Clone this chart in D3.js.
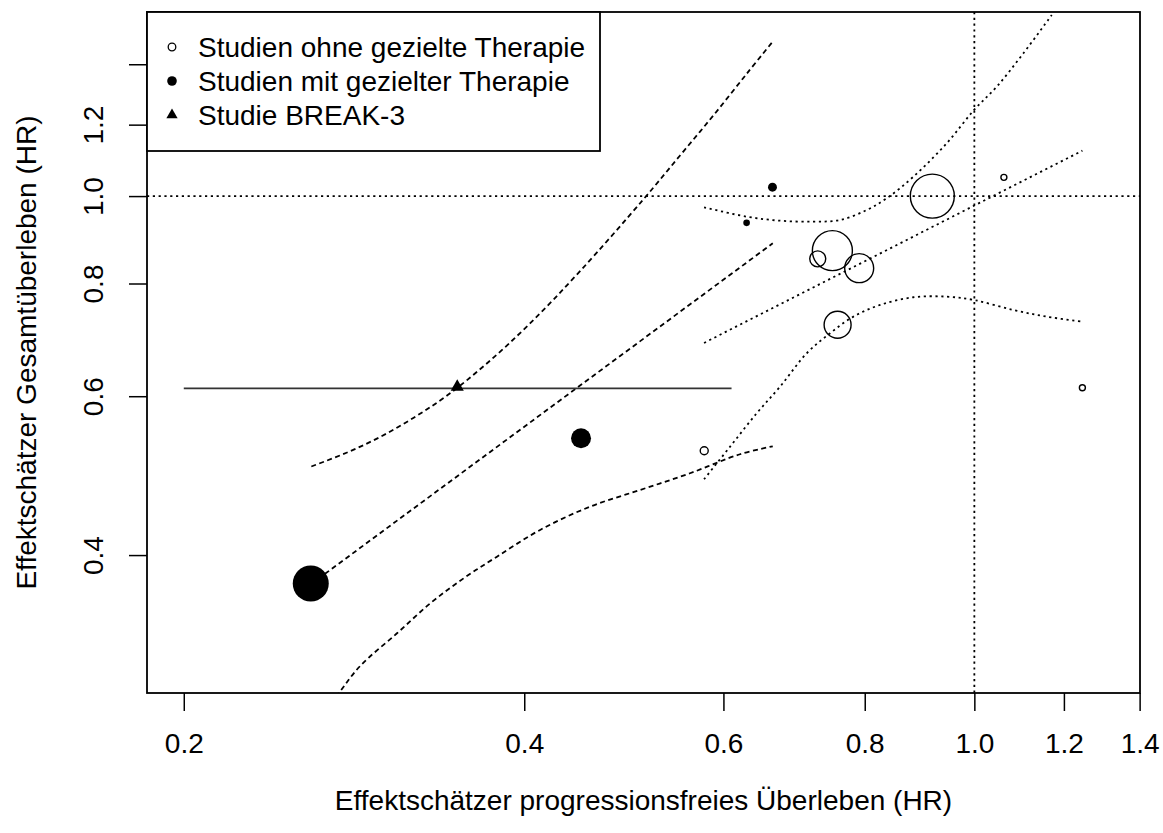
<!DOCTYPE html>
<html>
<head>
<meta charset="utf-8">
<script src="https://cdn.jsdelivr.net/npm/d3@7"></script>
<style>
  body { margin: 0; background: #fff; }
  text { font-family: "Liberation Sans", Arial, sans-serif; fill: #000; }
</style>
</head>
<body>
<div id="chart"></div>
<script>
// Studien ohne gezielte Therapie (offene Kreise)
const ohnePfs = [0.918, 1.062, 0.749, 0.727, 0.791, 0.757, 1.246, 0.577];
const ohneOs = [1.000, 1.049, 0.870, 0.852, 0.832, 0.720, 0.613, 0.522];
const ohneGewicht = [484, 9, 400, 64, 210, 182, 9, 16];

// Studien mit gezielter Therapie (gefuellte Kreise)
const mitPfs = [0.663, 0.629, 0.449, 0.259];
const mitOs = [1.023, 0.934, 0.539, 0.372];
const mitGewicht = [20, 11, 100, 324];

// Studie BREAK-3 mit Konfidenzintervall fuer PFS
const breakPfs = [0.349];
const breakOs = [0.612];
const breakKiPfs = [0.200, 0.610];

// Regression (gezielte Therapie), gestrichelt
const mitFitPfs = [0.2593, 0.6634];
const mitFitOs = [0.3716, 0.8865];
const mitObenPfs = [0.2593, 0.2789, 0.2984, 0.3194, 0.3418, 0.3706, 0.4047, 0.4481, 0.5098, 0.5493, 0.5878, 0.6292, 0.6634];
const mitObenOs = [0.5015, 0.5197, 0.5409, 0.5680, 0.6010, 0.6522, 0.7225, 0.8256, 0.9916, 1.1092, 1.2284, 1.3667, 1.4835];
const mitUntenPfs = [0.2593, 0.2742, 0.2865, 0.3087, 0.3304, 0.3536, 0.3784, 0.4131, 0.4573, 0.5064, 0.5606, 0.6206, 0.6634];
const mitUntenOs = [0.2549, 0.2811, 0.3015, 0.3276, 0.3537, 0.3770, 0.3984, 0.4265, 0.4526, 0.4723, 0.4929, 0.5174, 0.5280];

// Regression (ohne gezielte Therapie), gepunktet
const ohneFitPfs = [0.5768, 1.246];
const ohneFitOs = [0.6874, 1.1229];
const ohneObenPfs = [0.5768, 0.6292, 0.6733, 0.7206, 0.7608, 0.8033, 0.8367, 0.8833, 0.9453, 0.9994, 1.0467, 1.1050, 1.1707];
const ohneObenOs = [0.9718, 0.9488, 0.9391, 0.9368, 0.9408, 0.9651, 0.9944, 1.0507, 1.1443, 1.2458, 1.3221, 1.4398, 1.5876];
const ohneUntenPfs = [0.5768, 0.6082, 0.6421, 0.6733, 0.7109, 0.7455, 0.7817, 0.8254, 0.8833, 0.9453, 0.9994, 1.0826, 1.1588, 1.246];
const ohneUntenOs = [0.4854, 0.5275, 0.5745, 0.6148, 0.6695, 0.7046, 0.7351, 0.7574, 0.7724, 0.7736, 0.7670, 0.7477, 0.7351, 0.7257];

// Achsen
const xLim = [0.2, 1.3];
const yLim = [0.3, 1.5];
const xTicks = [0.2, 0.4, 0.6, 0.8, 1.0, 1.2, 1.4];
const xTickLabels = ["0.2", "0.4", "0.6", "0.8", "1.0", "1.2", "1.4"];
const yTicks = [0.4, 0.6, 0.8, 1.0, 1.2, 1.4];
const yTickLabels = ["0.4", "0.6", "0.8", "1.0", "1.2", ""];

const legendLabels = ["Studien ohne gezielte Therapie", "Studien mit gezielter Therapie", "Studie BREAK-3"];
const xTitle = "Effektschätzer progressionsfreies Überleben (HR)";
const yTitle = "Effektschätzer Gesamtüberleben (HR)";

const width = 1163, height = 833;
const margin = { top: 12, right: 23, bottom: 140, left: 147 };
const fontSize = 28;

// R-artige Achsenerweiterung um 4 % (log)
function extend(lim) {
    const a = Math.log(lim[0]), b = Math.log(lim[1]), d = (b - a) * 0.04;
    return [Math.exp(a - d), Math.exp(b + d)];
}

const x = d3.scaleLog()
    .domain(extend(xLim))
    .range([margin.left, width - margin.right]);

const y = d3.scaleLog()
    .domain(extend(yLim))
    .range([height - margin.bottom, margin.top]);

const r = d3.scaleSqrt().domain([0, 484]).range([0, 22]);

const svg = d3.select("#chart")
    .append("svg")
    .attr("width", width)
    .attr("height", height)
    .attr("viewBox", [0, 0, width, height]);

svg.append("defs").append("clipPath")
    .attr("id", "plotclip")
    .append("rect")
    .attr("x", margin.left)
    .attr("y", margin.top)
    .attr("width", width - margin.right - margin.left)
    .attr("height", height - margin.bottom - margin.top);

const plot = svg.append("g").attr("clip-path", "url(#plotclip)");

const zip = (xs, ys) => xs.map((v, i) => [v, ys[i]]);

const straight = d3.line().x(d => x(d[0])).y(d => y(d[1]));
const smooth = d3.line().x(d => x(d[0])).y(d => y(d[1])).curve(d3.curveCatmullRom);

const dashed = "5,3.5";
const dotted = "2.2,3.6";

// Referenzlinien HR = 1
plot.append("line")
    .attr("x1", margin.left).attr("x2", width - margin.right)
    .attr("y1", y(1)).attr("y2", y(1))
    .attr("stroke", "#000").attr("stroke-width", 1.8)
    .attr("stroke-dasharray", dotted);

plot.append("line")
    .attr("x1", x(1)).attr("x2", x(1))
    .attr("y1", margin.top).attr("y2", height - margin.bottom)
    .attr("stroke", "#000").attr("stroke-width", 1.8)
    .attr("stroke-dasharray", dotted);

const curves = [
    { d: straight(zip(mitFitPfs, mitFitOs)), dash: dashed },
    { d: smooth(zip(mitObenPfs, mitObenOs)), dash: dashed },
    { d: smooth(zip(mitUntenPfs, mitUntenOs)), dash: dashed },
    { d: straight(zip(ohneFitPfs, ohneFitOs)), dash: dotted },
    { d: smooth(zip(ohneObenPfs, ohneObenOs)), dash: dotted },
    { d: smooth(zip(ohneUntenPfs, ohneUntenOs)), dash: dotted }
];

plot.append("g")
    .selectAll("path")
    .data(curves)
    .join("path")
    .attr("d", c => c.d)
    .attr("fill", "none")
    .attr("stroke", "#000")
    .attr("stroke-width", 1.8)
    .attr("stroke-dasharray", c => c.dash);

// KI BREAK-3
plot.append("line")
    .attr("x1", x(breakKiPfs[0])).attr("x2", x(breakKiPfs[1]))
    .attr("y1", y(breakOs[0])).attr("y2", y(breakOs[0]))
    .attr("stroke", "#333").attr("stroke-width", 1.8);

// Punkte
plot.append("g")
    .selectAll("circle")
    .data(d3.range(ohnePfs.length))
    .join("circle")
    .attr("cx", i => x(ohnePfs[i]))
    .attr("cy", i => y(ohneOs[i]))
    .attr("r", i => r(ohneGewicht[i]))
    .attr("fill", "none")
    .attr("stroke", "#000")
    .attr("stroke-width", 1.4);

plot.append("g")
    .selectAll("circle")
    .data(d3.range(mitPfs.length))
    .join("circle")
    .attr("cx", i => x(mitPfs[i]))
    .attr("cy", i => y(mitOs[i]))
    .attr("r", i => r(mitGewicht[i]))
    .attr("fill", "#000");

plot.append("g")
    .selectAll("path")
    .data(d3.range(breakPfs.length))
    .join("path")
    .attr("transform", i => `translate(${x(breakPfs[i])},${y(breakOs[i]) - 1.5})`)
    .attr("d", d3.symbol(d3.symbolTriangle, 75))
    .attr("fill", "#000");

// Rahmen
svg.append("rect")
    .attr("x", margin.left)
    .attr("y", margin.top)
    .attr("width", width - margin.right - margin.left)
    .attr("height", height - margin.bottom - margin.top)
    .attr("fill", "none")
    .attr("stroke", "#000")
    .attr("stroke-width", 1.8);

// x-Achse
const xAxis = g => g
    .attr("transform", `translate(0,${height - margin.bottom})`)
    .call(d3.axisBottom(x).tickValues(xTicks).tickFormat((d, i) => xTickLabels[i]).tickSize(18).tickPadding(22))
    .call(g => g.select(".domain").remove())
    .call(g => g.selectAll(".tick line").attr("stroke-width", 1.5))
    .call(g => g.selectAll("text").style("font-size", fontSize + "px").attr("fill", "#000"));

svg.append("g").call(xAxis);

// y-Achse (Beschriftung gedreht wie in R)
const yAxis = g => g
    .attr("transform", `translate(${margin.left},0)`)
    .call(d3.axisLeft(y).tickValues(yTicks).tickFormat((d, i) => yTickLabels[i]).tickSize(18))
    .call(g => g.select(".domain").remove())
    .call(g => g.selectAll(".tick line").attr("stroke-width", 1.5))
    .call(g => g.selectAll("text")
        .attr("x", null).attr("dy", null)
        .attr("transform", "translate(-44,0) rotate(-90)")
        .attr("text-anchor", "middle")
        .style("font-size", fontSize + "px")
        .attr("fill", "#000"));

svg.append("g").call(yAxis);

// Achsentitel
svg.append("text")
    .attr("x", (margin.left + width - margin.right) / 2)
    .attr("y", 810)
    .attr("text-anchor", "middle")
    .style("font-size", fontSize + "px")
    .text(xTitle);

svg.append("text")
    .attr("transform", `translate(36,${(margin.top + height - margin.bottom) / 2}) rotate(-90)`)
    .attr("text-anchor", "middle")
    .style("font-size", fontSize + "px")
    .text(yTitle);

// Legende
const legend = svg.append("g");
legend.append("rect")
    .attr("x", margin.left)
    .attr("y", margin.top)
    .attr("width", 453)
    .attr("height", 139)
    .attr("fill", "#fff")
    .attr("stroke", "#000")
    .attr("stroke-width", 1.8);

const legendY = i => 47 + i * 34;
legend.append("circle").attr("cx", 172).attr("cy", legendY(0)).attr("r", 3.8)
    .attr("fill", "none").attr("stroke", "#000").attr("stroke-width", 1.3);
legend.append("circle").attr("cx", 172).attr("cy", legendY(1)).attr("r", 4.8).attr("fill", "#000");
legend.append("path")
    .attr("transform", `translate(172,${legendY(2)})`)
    .attr("d", d3.symbol(d3.symbolTriangle, 55))
    .attr("fill", "#000");

legend.selectAll("text.lab")
    .data(legendLabels)
    .join("text")
    .attr("class", "lab")
    .attr("x", 198)
    .attr("y", (d, i) => legendY(i))
    .attr("dy", "0.36em")
    .style("font-size", fontSize + "px")
    .text(d => d);
</script>
</body>
</html>
